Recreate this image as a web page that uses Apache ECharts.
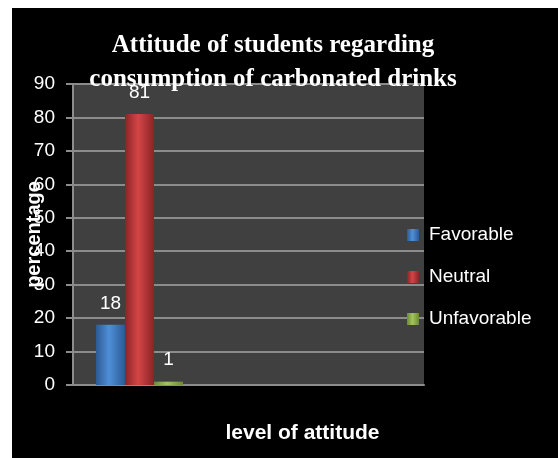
<!doctype html>
<html lang="en">
<head>
    <meta charset="UTF-8" />
    <title>attitude chart</title>
    <style>
        body { margin: 0; background: #fff; }
        #chart { position: absolute; left: 12px; top: 8px; width: 546px; height: 450px; }
    </style>
</head>
<body>
    <div id="chart"></div>
    <script src="https://cdn.jsdelivr.net/npm/echarts@6/dist/echarts.min.js"></script>
    <script type="text/javascript">
        // data
        var categories = ['Students'];
        var seriesNames = ['Favorable', 'Neutral', 'Unfavorable'];
        var favorable = [18];
        var neutral = [81];
        var unfavorable = [1];
        var yTicks = { min: 0, max: 90, step: 10 };

        function barColor(edge, mid) {
            return new echarts.graphic.LinearGradient(0, 0, 1, 0, [
                { offset: 0, color: edge },
                { offset: 0.45, color: mid },
                { offset: 1, color: edge }
            ]);
        }

        // pair each value with its category index
        function toPoints(values) {
            return values.map(function (v, i) { return [categories.indexOf(categories[i]), v]; });
        }

        var labelStyle = {
            show: true,
            position: 'top',
            distance: 12,
            color: '#fff',
            fontFamily: 'Liberation Sans',
            fontSize: 19
        };

        var chart = echarts.init(document.getElementById('chart'));
        var option = {
            backgroundColor: '#000',
            animation: false,
            title: {
                text: 'Attitude of students regarding\nconsumption of carbonated drinks',
                left: 256,
                top: 16,
                textAlign: 'center',
                textStyle: {
                    color: '#fff',
                    fontFamily: 'Liberation Serif',
                    fontWeight: 'bold',
                    fontSize: 25,
                    lineHeight: 34
                }
            },
            legend: {
                orient: 'vertical',
                left: 390,
                top: 212,
                itemWidth: 12,
                itemHeight: 12,
                itemGap: 22,
                icon: 'rect',
                textStyle: {
                    color: '#fff',
                    fontFamily: 'Liberation Sans',
                    fontSize: 19,
                    lineHeight: 20,
                    padding: [0, 0, 0, 5]
                },
                data: seriesNames
            },
            grid: {
                left: 61,
                top: 76,
                right: 134,
                bottom: 73,
                outerBoundsMode: 'none',
                show: true,
                backgroundColor: '#404040',
                borderWidth: 0
            },
            xAxis: {
                type: 'value',
                min: -0.5,
                max: 2.14,
                name: 'level of attitude',
                nameLocation: 'middle',
                nameGap: 38,
                nameMoveOverlap: false,
                nameTextStyle: {
                    color: '#fff',
                    fontFamily: 'Liberation Sans',
                    fontWeight: 'bold',
                    fontSize: 21,
                    padding: [0, 0, 0, 108]
                },
                axisLine: { show: true, onZero: false, lineStyle: { color: '#8c8c8c', width: 2 } },
                axisTick: { show: false },
                axisLabel: { show: false },
                splitLine: { show: false }
            },
            yAxis: {
                type: 'value',
                min: yTicks.min,
                max: yTicks.max,
                interval: yTicks.step,
                name: 'percentage',
                nameLocation: 'middle',
                nameGap: 29,
                nameMoveOverlap: false,
                nameRotate: 90,
                nameTextStyle: {
                    color: '#fff',
                    fontFamily: 'Liberation Sans',
                    fontWeight: 'bold',
                    fontSize: 20
                },
                axisLine: { show: true, onZero: false, lineStyle: { color: '#8c8c8c', width: 2 } },
                axisTick: { show: true, length: 7, lineStyle: { color: '#8c8c8c', width: 2 } },
                axisLabel: {
                    color: '#fff',
                    fontFamily: 'Liberation Sans',
                    fontSize: 19,
                    margin: 18
                },
                splitLine: { lineStyle: { color: '#8c8c8c', width: 2 } }
            },
            series: [{
                name: seriesNames[0],
                type: 'bar',
                data: toPoints(favorable),
                barWidth: 29,
                barGap: '0%',
                itemStyle: { color: barColor('#2c5a94', '#4f8fd8') },
                label: labelStyle
            }, {
                name: seriesNames[1],
                type: 'bar',
                data: toPoints(neutral),
                barWidth: 29,
                barGap: '0%',
                itemStyle: { color: barColor('#8a2426', '#d44546') },
                label: labelStyle
            }, {
                name: seriesNames[2],
                type: 'bar',
                data: toPoints(unfavorable),
                barWidth: 29,
                barGap: '0%',
                itemStyle: { color: barColor('#6c8a35', '#a3c55e') },
                label: labelStyle
            }]
        };
        chart.setOption(option);
    </script>
</body>
</html>
